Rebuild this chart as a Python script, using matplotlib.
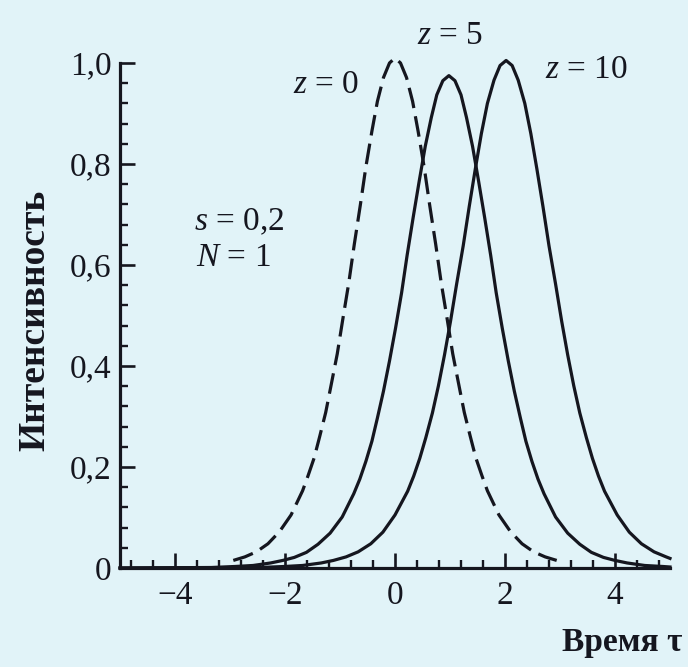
import matplotlib
matplotlib.use("Agg")
import matplotlib.pyplot as plt
from matplotlib.ticker import MultipleLocator, FixedLocator, FixedFormatter

# ---- data ----
tau_z0 = [-2.94, -2.73, -2.52, -2.31, -2.10, -1.89, -1.68, -1.58, -1.47, -1.37, -1.26, -1.16,
          -1.05, -0.95, -0.84, -0.74, -0.63, -0.53, -0.42, -0.32, -0.21, -0.10, 0.00,
          0.10, 0.21, 0.32, 0.42, 0.53, 0.63, 0.74, 0.84, 0.95, 1.05, 1.16, 1.26, 1.37,
          1.47, 1.58, 1.68, 1.89, 2.10, 2.31, 2.52, 2.73, 2.94]
int_z0 = [0.015, 0.022, 0.032, 0.048, 0.072, 0.105, 0.153, 0.183, 0.218, 0.260, 0.308, 0.363,
          0.424, 0.492, 0.565, 0.641, 0.719, 0.794, 0.865, 0.924, 0.971, 1.000, 1.010,
          1.000, 0.971, 0.924, 0.865, 0.794, 0.719, 0.641, 0.565, 0.492, 0.424, 0.363, 0.308, 0.260,
          0.218, 0.183, 0.153, 0.105, 0.072, 0.048, 0.032, 0.022, 0.015]

tau_z5 = [-5.00, -3.34, -2.91, -2.58, -2.26, -2.04, -1.83, -1.61, -1.40, -1.18, -0.96, -0.75,
          -0.64, -0.53, -0.42, -0.32, -0.21, -0.10, 0.01, 0.12, 0.22, 0.33, 0.44, 0.55,
          0.66, 0.76, 0.87, 0.98, 1.09, 1.20, 1.30, 1.41, 1.52, 1.63, 1.74, 1.84, 1.95,
          2.06, 2.17, 2.28, 2.38, 2.49, 2.60, 2.71, 2.92, 3.14, 3.36, 3.57, 3.79, 4.00,
          4.22, 4.54, 4.87, 5.00]
int_z5 = [0.000, 0.001, 0.003, 0.005, 0.010, 0.015, 0.021, 0.031, 0.047, 0.069, 0.101, 0.147,
          0.176, 0.211, 0.251, 0.297, 0.350, 0.410, 0.475, 0.545, 0.619, 0.694, 0.766, 0.835,
          0.892, 0.937, 0.965, 0.975, 0.965, 0.937, 0.892, 0.835, 0.766, 0.694, 0.619, 0.545, 0.475,
          0.410, 0.350, 0.297, 0.251, 0.211, 0.176, 0.147, 0.101, 0.069, 0.047, 0.031, 0.021, 0.015,
          0.010, 0.005, 0.003, 0.002]

tau_z10 = [-5.00, -2.46, -2.01, -1.68, -1.34, -1.12, -0.89, -0.67, -0.44, -0.22, 0.00, 0.23,
           0.34, 0.45, 0.56, 0.68, 0.79, 0.90, 1.01, 1.12, 1.24, 1.35, 1.46, 1.57, 1.68,
           1.80, 1.91, 2.02, 2.13, 2.24, 2.36, 2.47, 2.58, 2.69, 2.80, 2.92, 3.03, 3.14,
           3.25, 3.36, 3.48, 3.59, 3.70, 3.81, 4.04, 4.26, 4.48, 4.71, 4.93, 5.00]
int_z10 = [0.000, 0.001, 0.003, 0.005, 0.010, 0.015, 0.022, 0.032, 0.048, 0.071, 0.105, 0.152,
           0.182, 0.217, 0.258, 0.307, 0.361, 0.422, 0.489, 0.562, 0.638, 0.716, 0.790, 0.860, 0.920,
           0.966, 0.995, 1.005, 0.995, 0.966, 0.920, 0.860, 0.790, 0.716, 0.638, 0.562, 0.489, 0.422,
           0.361, 0.307, 0.258, 0.217, 0.182, 0.152, 0.105, 0.071, 0.048, 0.032, 0.022, 0.019]

x_ticks = [-4, -2, 0, 2, 4]
x_tick_labels = ["\u22124", "\u22122", "0", "2", "4"]
y_ticks = [0, 0.2, 0.4, 0.6, 0.8, 1.0]
y_tick_labels = ["0", "0,2", "0,4", "0,6", "0,8", "1,0"]

# ---- style ----
BG = "#e1f3f8"
INK = "#15161f"
plt.rcParams["font.family"] = ["Liberation Serif", "DejaVu Serif"]
plt.rcParams["mathtext.fontset"] = "custom"
plt.rcParams["mathtext.it"] = "Liberation Serif:italic"
plt.rcParams["mathtext.rm"] = "Liberation Serif"

W, H = 688, 667
fig = plt.figure(figsize=(W / 100, H / 100), dpi=100, facecolor=BG)
ax = fig.add_axes([120 / W, (H - 568) / H, 550 / W, 505 / H])
ax.set_facecolor(BG)

lw = 2.3
line_kw = dict(color=INK, lw=lw, clip_on=False, solid_joinstyle="round",
               dash_joinstyle="round")
ax.plot(tau_z0, int_z0, dashes=(6.5, 2.6), **line_kw)
ax.plot(tau_z5, int_z5, **line_kw)
ax.plot(tau_z10, int_z10, **line_kw)

ax.set_xlim(-5, 5)
ax.set_ylim(0, 1.0)
for s in ["top", "right"]:
    ax.spines[s].set_visible(False)
for s in ["left", "bottom"]:
    ax.spines[s].set_linewidth(2.3)
    ax.spines[s].set_color(INK)

ax.xaxis.set_major_locator(FixedLocator(x_ticks))
ax.xaxis.set_major_formatter(FixedFormatter(x_tick_labels))
ax.xaxis.set_minor_locator(MultipleLocator(0.4))
ax.yaxis.set_major_locator(FixedLocator(y_ticks))
ax.yaxis.set_major_formatter(FixedFormatter(y_tick_labels))
ax.yaxis.set_minor_locator(MultipleLocator(0.04))

ax.tick_params(which="major", direction="in", length=11, width=1.9, color=INK,
               labelsize=24, labelcolor=INK)
ax.tick_params(which="minor", direction="in", length=6, width=1.7, color=INK)
ax.tick_params(axis="x", which="major", pad=9)
ax.tick_params(axis="y", which="major", pad=6)

fig.text(35 / W, 1 - 320 / H, "Интенсивность", rotation=90, ha="center", va="center",
         fontsize=27, fontweight="bold", color=INK)
fig.text(682 / W, 1 - 642 / H, "Время τ", ha="right", va="center",
         fontsize=24, fontweight="bold", color=INK)

tk = dict(fontsize=24, color=INK, va="center")
ax.text(-1.25, 0.956, "$z$ = 0", ha="center", **tk)
ax.text(1.0, 1.053, "$z$ = 5", ha="center", **tk)
ax.text(3.49, 0.986, "$z$ = 10", ha="center", **tk)
ax.text(-3.66, 0.685, "$s$ = 0,2", ha="left", **tk)
ax.text(-3.62, 0.614, "$N$ = 1", ha="left", **tk)

fig.savefig("out.png", dpi=100, facecolor=BG)
